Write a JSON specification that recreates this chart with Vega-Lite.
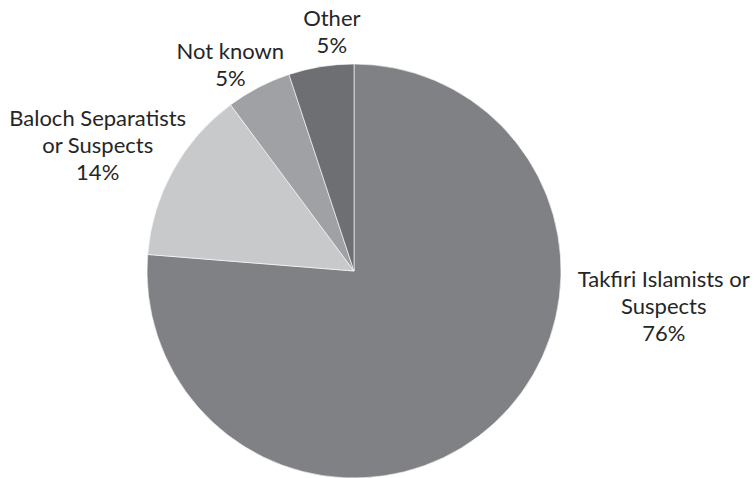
{
  "$schema": "https://vega.github.io/schema/vega-lite/v6.json",
  "width": 414,
  "height": 414,
  "autosize": "none",
  "padding": {"left": 147, "top": 64, "right": 193, "bottom": 0},
  "background": "white",
  "config": {"view": {"stroke": null}},
  "data": {
    "values": [
      {"cat": "Takfiri Islamists or Suspects", "count": 45, "idx": 1, "label": "Takfiri Islamists or\nSuspects\n76%"},
      {"cat": "Baloch Separatists or Suspects", "count": 8, "idx": 2, "label": "Baloch Separatists\nor Suspects\n14%"},
      {"cat": "Not known", "count": 3, "idx": 3, "label": "Not known\n5%"},
      {"cat": "Other", "count": 3, "idx": 4, "label": "Other\n5%"}
    ]
  },
  "encoding": {
    "theta": {"field": "count", "type": "quantitative", "stack": true},
    "order": {"field": "idx", "type": "ordinal"},
    "detail": {"field": "cat", "type": "nominal"}
  },
  "layer": [
    {
      "mark": {"type": "arc", "stroke": "#ffffff", "strokeWidth": 0.6},
      "encoding": {
        "color": {
          "field": "cat",
          "type": "nominal",
          "scale": {
            "domain": ["Takfiri Islamists or Suspects", "Baloch Separatists or Suspects", "Not known", "Other"],
            "range": ["#808185", "#c8c9cb", "#a0a1a4", "#6e6f72"]
          },
          "legend": null
        }
      }
    },
    {
      "mark": {"type": "text", "radius": 237, "dx": 149, "dy": -165, "font": "Lato", "fontSize": 22, "lineHeight": 27, "lineBreak": "\n", "align": "center", "baseline": "middle", "color": "#262626"},
      "encoding": {"text": {"condition": {"test": "datum.idx == 1", "field": "label"}, "value": ""}}
    },
    {
      "mark": {"type": "text", "radius": 285, "dx": -7, "dy": -14, "font": "Lato", "fontSize": 22, "lineHeight": 27, "lineBreak": "\n", "align": "center", "baseline": "middle", "color": "#262626"},
      "encoding": {"text": {"condition": {"test": "datum.idx == 2", "field": "label"}, "value": ""}}
    },
    {
      "mark": {"type": "text", "radius": 240, "dx": -13, "dy": -6.5, "font": "Lato", "fontSize": 22, "lineHeight": 27, "lineBreak": "\n", "align": "center", "baseline": "middle", "color": "#262626"},
      "encoding": {"text": {"condition": {"test": "datum.idx == 3", "field": "label"}, "value": ""}}
    },
    {
      "mark": {"type": "text", "radius": 240, "dx": 16, "dy": -15, "font": "Lato", "fontSize": 22, "lineHeight": 27, "lineBreak": "\n", "align": "center", "baseline": "middle", "color": "#262626"},
      "encoding": {"text": {"condition": {"test": "datum.idx == 4", "field": "label"}, "value": ""}}
    }
  ]
}
